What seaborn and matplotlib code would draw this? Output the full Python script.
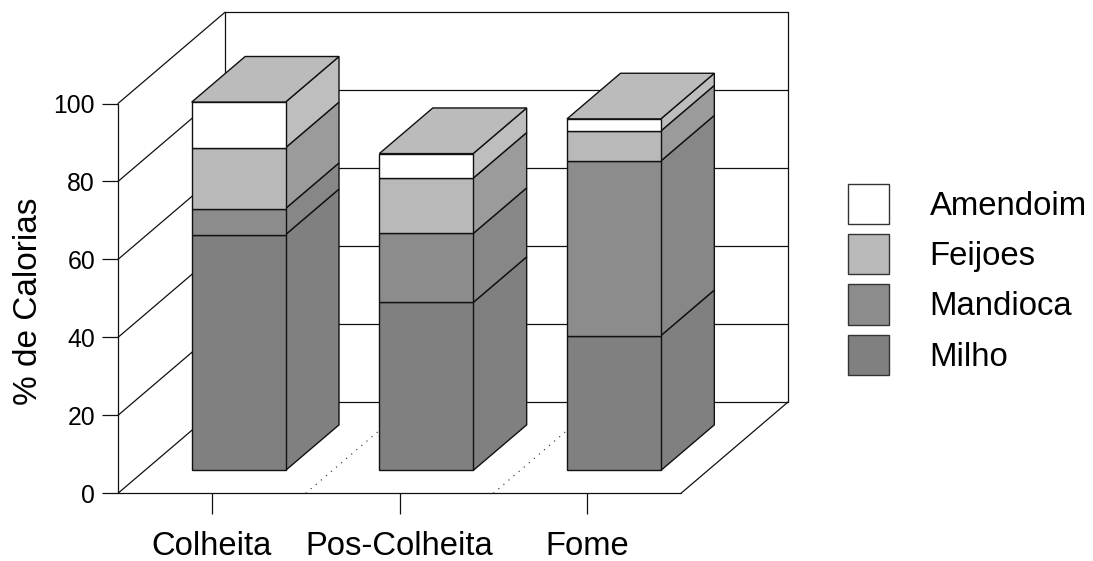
import matplotlib
matplotlib.use("Agg")
import matplotlib.pyplot as plt
from matplotlib.patches import Patch, Polygon
from matplotlib.transforms import Affine2D
import numpy as np
import seaborn as sns

periods = ["Colheita", "Pos-Colheita", "Fome"]
foods = ["Milho", "Mandioca", "Feijoes", "Amendoim"]
milho = [60.5, 43.1, 34.6]
mandioca = [6.7, 17.7, 44.8]
feijoes = [15.6, 14.2, 7.7]
amendoim = [11.7, 6.3, 3.1]
series = [milho, mandioca, feijoes, amendoim]

front_colors = ["#808080", "#8c8c8c", "#b9b9b9", "#ffffff"]
side_colors = ["#808080", "#878787", "#9b9b9b", "#bebebe"]
top_color = "#bbbbbb"
y_ticks = [0, 20, 40, 60, 80, 100]

W, H = 1093, 561
DEPTH_X = 107 / (563 / 3)  # x units for a full unit of depth
DEPTH_Y = 91.3 / 3.9       # y units for a full unit of depth
LINE = "#111111"

sns.set_theme(style="white")
plt.rcParams["font.family"] = ["Liberation Sans", "DejaVu Sans"]


def project(x, y, d):
    return x + d * DEPTH_X, y + d * DEPTH_Y


fig = plt.figure(figsize=(W / 100, H / 100), dpi=100)
ax = fig.add_axes([118 / W, (H - 493.3) / H, 563 / W, 389.8 / H])

# Bars: front faces come from seaborn, pushed back into the box
front_depth, back_depth = 0.25, 0.75
bottom = np.zeros(len(periods))
shift = Affine2D().translate(*project(0, 0, front_depth)) + ax.transData
for vals, front, side in zip(series, front_colors, side_colors):
    n_before = len(ax.patches)
    sns.barplot(
        x=periods, y=vals, bottom=bottom, order=periods, width=0.5, color=front,
        saturation=1, edgecolor=LINE, linewidth=1.0, errorbar=None, ax=ax, zorder=4,
    )
    for bar in ax.patches[n_before:]:
        bar.set_transform(shift)
        bar.set_clip_on(False)
    for bar in list(ax.patches[n_before:len(ax.patches)]):
        x1 = bar.get_x() + bar.get_width()
        y0, y1 = bar.get_y(), bar.get_y() + bar.get_height()
        corners = [project(x1, y0, front_depth), project(x1, y1, front_depth),
                   project(x1, y1, back_depth), project(x1, y0, back_depth)]
        ax.add_patch(Polygon(corners, facecolor=side, edgecolor=LINE, linewidth=1.0,
                             zorder=3, clip_on=False))
    bottom = bottom + np.array(vals)

# Top of every stack
for i, total in enumerate(bottom):
    x0, x1 = i - 0.25, i + 0.25
    corners = [project(x0, total, front_depth), project(x1, total, front_depth),
               project(x1, total, back_depth), project(x0, total, back_depth)]
    ax.add_patch(Polygon(corners, facecolor=top_color, edgecolor=LINE, linewidth=1.0,
                         zorder=3, clip_on=False))

ax.set_xlim(-0.5, 2.5)
ax.set_ylim(0, 100)
sns.despine(ax=ax, left=True, bottom=True)

# Box walls and grid
x_left, x_right = ax.get_xlim()
style = dict(color=LINE, linewidth=0.9, clip_on=False, zorder=1)
for tick in y_ticks:
    bx, by = project(x_left, tick, 1)
    ex, _ = project(x_right, tick, 1)
    ax.plot([x_left, bx], [tick, by], **style)
    ax.plot([bx, ex], [by, by], **style)
ax.plot([x_left, x_left], [0, 100], **style)
ax.plot([x_left, x_right], [0, 0], **style)
ax.plot(*zip(project(x_right, 0, 0), project(x_right, 0, 1)), **style)
ax.plot(*zip(project(x_left, 0, 1), project(x_left, 100, 1)), **style)
ax.plot(*zip(project(x_right, 0, 1), project(x_right, 100, 1)), **style)

# Dotted separators on the floor
for sep in [0.5, 1.5]:
    ax.plot(*zip(project(sep, 0, 0), project(sep, 0, 1)), color="#222222", linewidth=0.8,
            linestyle=(0, (1, 5)), clip_on=False, zorder=1)

ax.set_yticks(y_ticks)
ax.set_xticks(range(len(periods)), periods)
ax.set_xlabel("")
ax.set_ylabel("% de Calorias", fontsize=24, color="black", labelpad=0)
ax.yaxis.set_label_coords((44.5 - 118) / 563, (493.3 - 301) / 389.8)
ax.tick_params(axis="y", left=True, length=11.5, width=0.9, color=LINE, labelsize=17.8,
               labelcolor="black", pad=5)
ax.tick_params(axis="x", bottom=True, length=15, width=0.9, color=LINE, labelsize=23.6,
               labelcolor="black", pad=12.5)

handles = [Patch(facecolor=c, edgecolor="#333333", linewidth=1.0, label=f)
           for f, c in zip(foods, front_colors)][::-1]
fig.legend(
    handles=handles, loc="upper left", bbox_to_anchor=(848 / W, 1 - 184 / H),
    frameon=False, fontsize=23.7, labelcolor="black", borderpad=0, borderaxespad=0,
    handlelength=1.24, handleheight=1.5, handletextpad=1.24, labelspacing=0.305,
)

fig.savefig("out.png", dpi=100)
